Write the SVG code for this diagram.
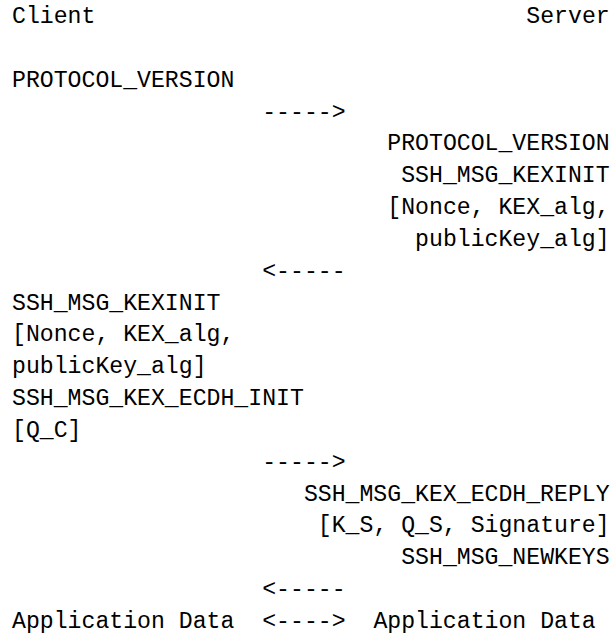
<svg xmlns="http://www.w3.org/2000/svg" width="612" height="636" viewBox="0 0 612 636">
<style>
text { font-family: "Liberation Mono", "DejaVu Sans Mono", monospace; font-size: 23.17px; fill: #000; }
</style>
<rect x="0" y="0" width="612" height="636" fill="#ffffff"/>
<g id="client">
<text x="12" y="23">Client</text>
</g>
<g id="server">
<text x="526.3" y="23">Server</text>
</g>
<g id="client-hello">
<text x="12" y="86.68">PROTOCOL_VERSION</text>
</g>
<g id="server-hello">
<text x="387.3" y="150.36">PROTOCOL_VERSION</text>
<text x="401.2" y="182.2">SSH_MSG_KEXINIT</text>
<text x="387.3" y="214.04">[Nonce, KEX_alg,</text>
<text x="415.1" y="245.88">publicKey_alg]</text>
</g>
<g id="client-kex">
<text x="12" y="309.56">SSH_MSG_KEXINIT</text>
<text x="12" y="341.4">[Nonce, KEX_alg,</text>
<text x="12" y="373.24">publicKey_alg]</text>
<text x="12" y="405.08">SSH_MSG_KEX_ECDH_INIT</text>
<text x="12" y="436.92">[Q_C]</text>
</g>
<g id="server-kex">
<text x="303.9" y="500.6">SSH_MSG_KEX_ECDH_REPLY</text>
<text x="317.8" y="532.44">[K_S, Q_S, Signature]</text>
<text x="401.2" y="564.28">SSH_MSG_NEWKEYS</text>
</g>
<g id="client-data">
<text x="12" y="627.96">Application Data</text>
</g>
<g id="server-data">
<text x="373.4" y="627.96">Application Data</text>
</g>
<g id="connectors">
<text x="262.2" y="118.52">-----&gt;</text>
<text x="262.2" y="277.72">&lt;-----</text>
<text x="262.2" y="468.76">-----&gt;</text>
<text x="262.2" y="596.12">&lt;-----</text>
<text x="262.2" y="627.96">&lt;----&gt;</text>
</g>
</svg>
